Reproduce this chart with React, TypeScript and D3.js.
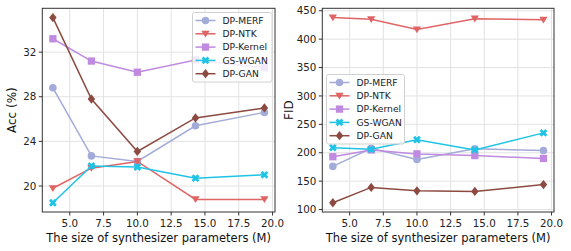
import React from "react";
import * as d3 from "d3";

// model sizes (M)
const sizes = [3.75, 6.6, 10.0, 14.3, 19.4];
const methods = ["DP-MERF", "DP-NTK", "DP-Kernel", "GS-WGAN", "DP-GAN"];
const colors = ["#a3abd8", "#e06464", "#c08ae0", "#1ec3e6", "#8c4a40"];
const markers = ["circle", "triangle", "square", "x", "diamond"];

// accuracy (%)
const accMERF = [28.8, 22.7, 22.2, 25.4, 26.6];
const accNTK = [19.8, 21.6, 22.2, 18.8, 18.8];
const accKernel = [33.2, 31.2, 30.2, 31.3, 30.6];
const accGSWGAN = [18.5, 21.8, 21.7, 20.7, 21.0];
const accDPGAN = [35.1, 27.8, 23.1, 26.1, 27.0];

// FID
const fidMERF = [176, 208, 188, 207, 204];
const fidNTK = [438, 435, 417, 436, 434];
const fidKernel = [193, 205, 198, 195, 190];
const fidGSWGAN = [209, 206, 223, 205, 235];
const fidDPGAN = [112, 139, 133, 132, 144];

const xTicks = [5, 7.5, 10, 12.5, 15, 17.5, 20];
const accTicks = [20, 24, 28, 32];
const fidTicks = [100, 150, 200, 250, 300, 350, 400, 450];

const FONT = "DejaVu Sans, sans-serif";

function pad(ext: number[]) {
  const m = (ext[1] - ext[0]) * 0.05;
  return [ext[0] - m, ext[1] + m];
}

function markerPath(kind: string, s: number) {
  switch (kind) {
    case "circle":
      return d3.symbol(d3.symbolCircle, s * s * 0.8)()!;
    case "square":
      return d3.symbol(d3.symbolSquare, s * s * 0.95)()!;
    case "diamond": {
      const r = s * 0.62;
      return `M0,${-r}L${r * 0.8},0L0,${r}L${-r * 0.8},0Z`;
    }
    case "triangle": {
      const r = s * 0.55;
      return `M${-r},${-r * 0.75}L${r},${-r * 0.75}L0,${r * 0.9}Z`;
    }
    default: {
      const a = s * 0.52, b = s * 0.26;
      return `M${-a},${-a + b}L${-a + b},${-a}L0,${-b}L${a - b},${-a}L${a},${-a + b}L${b},0L${a},${a - b}L${a - b},${a}L0,${b}L${-a + b},${a}L${-a},${a - b}L${-b},0Z`;
    }
  }
}

type PanelProps = {
  left: number;
  right: number;
  series: number[][];
  yTicks: number[];
  yLabel: string;
  yLabelX: number;
  legendX: number;
  legendY: number;
  legendW: number;
};

function Panel({ left, right, series, yTicks, yLabel, yLabelX, legendX, legendY, legendW }: PanelProps) {
  const top = 8.3;
  const bottom = 212;
  const x = d3.scaleLinear().domain(pad(d3.extent(sizes) as number[])).range([left, right]);
  const all = series.flat();
  const y = d3.scaleLinear().domain(pad(d3.extent(all) as number[])).range([bottom, top]);
  const line = d3
    .line<number>()
    .x((_, i) => x(sizes[i]))
    .y((d) => y(d));
  const rowH = 13.3;
  return (
    <g>
      {xTicks.map((t) => (
        <line key={"gx" + t} x1={x(t)} x2={x(t)} y1={top} y2={bottom} stroke="#e2e2e2" strokeWidth={1} />
      ))}
      {yTicks.map((t) => (
        <line key={"gy" + t} x1={left} x2={right} y1={y(t)} y2={y(t)} stroke="#e2e2e2" strokeWidth={1} />
      ))}
      {series.map((s, i) => (
        <g key={methods[i]}>
          <path d={line(s)!} fill="none" stroke={colors[i]} strokeWidth={1.5} />
          {s.map((v, j) => (
            <path
              key={j}
              d={markerPath(markers[i], 7.5)}
              transform={`translate(${x(sizes[j])},${y(v)})`}
              fill={colors[i]}
            />
          ))}
        </g>
      ))}
      <rect x={left} y={top} width={right - left} height={bottom - top} fill="none" stroke="#333" strokeWidth={1} />
      {xTicks.map((t) => (
        <g key={"tx" + t}>
          <line x1={x(t)} x2={x(t)} y1={bottom} y2={bottom + 3.5} stroke="#333" />
          <text x={x(t)} y={227} textAnchor="middle" fontSize={10.3} fontFamily={FONT} fill="#222">
            {d3.format(".1f")(t)}
          </text>
        </g>
      ))}
      {yTicks.map((t) => (
        <g key={"ty" + t}>
          <line x1={left - 3.5} x2={left} y1={y(t)} y2={y(t)} stroke="#333" />
          <text x={left - 6} y={y(t)} dy="0.35em" textAnchor="end" fontSize={10.3} fontFamily={FONT} fill="#222">
            {t}
          </text>
        </g>
      ))}
      <text x={(left + right) / 2} y={241.5} textAnchor="middle" fontSize={11.5} fontFamily={FONT} fill="#111">
        The size of synthesizer parameters (M)
      </text>
      <text
        transform={`translate(${yLabelX},${(top + bottom) / 2}) rotate(-90)`}
        textAnchor="middle"
        dy="0.35em"
        fontSize={12}
        fontFamily={FONT}
        fill="#111"
      >
        {yLabel}
      </text>
      <g transform={`translate(${legendX},${legendY})`}>
        <rect width={legendW} height={rowH * 5 + 3} rx={2} fill="white" fillOpacity={0.8} stroke="#d0d0d0" />
        {methods.map((m, i) => (
          <g key={m} transform={`translate(0,${8 + i * rowH})`}>
            <line x1={3} x2={23} y1={0} y2={0} stroke={colors[i]} strokeWidth={1.5} />
            <path d={markerPath(markers[i], 7.5)} transform="translate(13,0)" fill={colors[i]} />
            <text x={30} y={0} dy="0.35em" fontSize={9.2} fontFamily={FONT} fill="#222">
              {m}
            </text>
          </g>
        ))}
      </g>
    </g>
  );
}

export default function App() {
  const accSeries = [accMERF, accNTK, accKernel, accGSWGAN, accDPGAN];
  const fidSeries = [fidMERF, fidNTK, fidKernel, fidGSWGAN, fidDPGAN];
  return (
    <svg width={571} height={251} style={{ position: "absolute", left: 0, top: 0, background: "white" }}>
      <Panel
        left={42.3}
        right={275}
        series={accSeries}
        yTicks={accTicks}
        yLabel="Acc (%)"
        yLabelX={12}
        legendX={192.5}
        legendY={12.5}
        legendW={79.5}
      />
      <Panel
        left={322.3}
        right={554}
        series={fidSeries}
        yTicks={fidTicks}
        yLabel="FID"
        yLabelX={289}
        legendX={326.5}
        legendY={74.5}
        legendW={78}
      />
    </svg>
  );
}
